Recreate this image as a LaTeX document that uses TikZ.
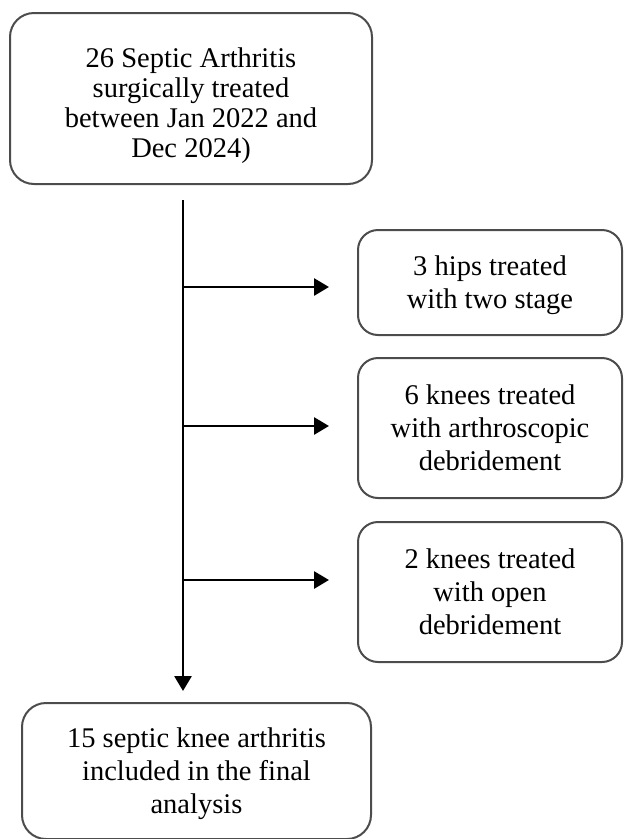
\documentclass[tikz,border=0pt]{standalone}
\usepackage{fontspec}
\setmainfont{Liberation Serif}
\usepackage{tikz}
\usetikzlibrary{arrows.meta}
\usetikzlibrary{calc}

\begin{document}
\begin{tikzpicture}[x=1pt,y=-1pt,
	box/.style={draw=black!70, line width=2pt, rounded corners=24pt, align=center, inner sep=0pt, text depth=0pt, font=\fontsize{28.5}{33}\selectfont},
	side/.style={box, minimum width=264pt, rounded corners=20pt},
	flow/.style={line width=2.8pt, -{Triangle[length=15pt,width=17pt]}}]
\useasboundingbox (0,0) rectangle (624,839);
\node[box, minimum width=362pt, minimum height=171pt, font=\fontsize{28.5}{30}\selectfont] (start) at (191,98.5) {\rule{0pt}{28pt}26 Septic Arthritis\\surgically treated\\between Jan 2022 and\\Dec 2024)};
\node[side, minimum height=105pt] (hips) at (490,282.5) {3 hips treated\\with two stage};
\node[side, minimum height=140pt] (arthro) at (490,428) {6 knees treated\\with arthroscopic\\debridement};
\node[side, minimum height=140pt] (open) at (490,592) {2 knees treated\\with open\\debridement};
\node[box, minimum width=349pt, minimum height=136pt] (final) at (196.5,771) {15 septic knee arthritis\\included in the final\\analysis};
\coordinate (trunk) at (183,200);
\coordinate (b1) at (183,287);
\coordinate (b2) at (183,426);
\coordinate (b3) at (183,580);
\draw[flow, shorten >=11pt] (trunk) -- (final.north -| trunk);
\draw[flow, shorten >=28pt] (b1) -- (b1 -| hips.west);
\draw[flow, shorten >=28pt] (b2) -- (b2 -| arthro.west);
\draw[flow, shorten >=28pt] (b3) -- (b3 -| open.west);
\end{tikzpicture}
\end{document}
